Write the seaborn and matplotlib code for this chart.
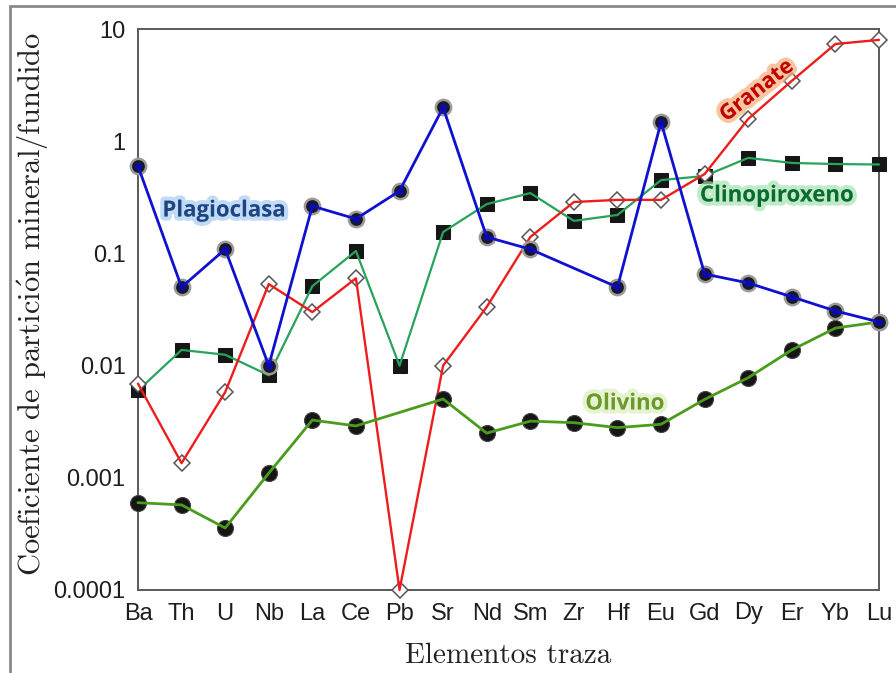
import numpy as np
import pandas as pd
import matplotlib
matplotlib.use("Agg")
import matplotlib.pyplot as plt
import matplotlib.patheffects as pe
from matplotlib.lines import Line2D
import seaborn as sns

# Elementos traza en el eje x
elementos = ["Ba", "Th", "U", "Nb", "La", "Ce", "Pb", "Sr", "Nd", "Sm",
             "Zr", "Hf", "Eu", "Gd", "Dy", "Er", "Yb", "Lu"]

# Coeficientes de partición mineral/fundido (NaN = sin dato)
plagioclasa = [0.60, 0.050, 0.109, 0.010, 0.264, 0.203, 0.36, 2.0, 0.14, 0.109,
               np.nan, 0.050, 1.48, 0.0655, 0.0545, 0.041, 0.0307, 0.0245]
clinopiroxeno = [0.0060, 0.0138, 0.0125, 0.0082, 0.051, 0.105, 0.010, 0.155, 0.275, 0.345,
                 0.195, 0.22, 0.45, 0.49, 0.71, 0.64, 0.626, 0.62]
granate = [0.0069, 0.00135, 0.0058, 0.0533, 0.030, 0.060, 0.0001, 0.010, 0.0333, 0.14,
           0.287, 0.30, 0.30, 0.51, 1.58, 3.45, 7.35, 8.0]
olivino = [0.00060, 0.000573, 0.000357, 0.0011, 0.00327, 0.0029, np.nan, 0.00504, 0.0025, 0.0032,
           0.0031, 0.0028, 0.0030, 0.0050, 0.0078, 0.0138, 0.0216, 0.0245]

yticks = [0.0001, 0.001, 0.01, 0.1, 1, 10]
ytick_labels = ["0.0001", "0.001", "0.01", "0.1", "1", "10"]


def tabla(valores):
    df = pd.DataFrame({"pos": np.arange(len(elementos)),
                       "elemento": elementos,
                       "kd": valores})
    return df.dropna()


sns.set_theme(style="white")
plt.rcParams["font.family"] = ["Liberation Sans", "DejaVu Sans"]
plt.rcParams["mathtext.fontset"] = "cm"

fig = plt.figure(figsize=(8.96, 6.73), dpi=100)
ax = fig.add_axes([138 / 896, 1 - 590 / 673, (879 - 138) / 896, (590 - 29) / 673])

comunes = dict(ax=ax, estimator=None, sort=False, clip_on=False)

# Clinopiroxeno: cuadrados negros, línea verde
d = tabla(clinopiroxeno)
sns.lineplot(data=d, x="pos", y="kd", linestyle="none", marker="s", markersize=10.5,
             markerfacecolor="#161616", markeredgecolor="#161616", zorder=3, **comunes)
sns.lineplot(data=d, x="pos", y="kd", color="#27a35c", linewidth=1.6, zorder=4, **comunes)

# Granate: rombos blancos, línea roja
d = tabla(granate)
sns.lineplot(data=d, x="pos", y="kd", linestyle="none", marker="D", markersize=8.5,
             markerfacecolor="white", markeredgecolor="#555555",
             markeredgewidth=1.1, zorder=5, **comunes)
sns.lineplot(data=d, x="pos", y="kd", color="#ee1c1c", linewidth=1.7, zorder=6, **comunes)

# Olivino: círculos negros grandes, línea verde oliva
d = tabla(olivino)
sns.lineplot(data=d, x="pos", y="kd", linestyle="none", marker="o", markersize=11.5,
             markerfacecolor="#151515", markeredgecolor="#444444",
             markeredgewidth=0.8, zorder=7, **comunes)
sns.lineplot(data=d, x="pos", y="kd", color="#4a9d1c", linewidth=2.0, zorder=8, **comunes)

# Plagioclasa: círculos con anillo gris y centro azul, línea azul
d = tabla(plagioclasa)
sns.lineplot(data=d, x="pos", y="kd", linestyle="none", marker="o", markersize=11,
             markerfacecolor="#1a1a1a", markeredgecolor="#9a9a9a",
             markeredgewidth=1.8, zorder=9, **comunes)
sns.lineplot(data=d, x="pos", y="kd", color="#1010d0", linewidth=2.0, zorder=10, **comunes)
sns.lineplot(data=d, x="pos", y="kd", linestyle="none", marker="o", markersize=4.5,
             markerfacecolor="#0a0ab0", markeredgecolor="#0a0ab0", zorder=11, **comunes)

ax.set_yscale("log")
ax.set_ylim(1e-4, 10)
ax.set_xlim(0, len(elementos) - 1)
ax.set_yticks(yticks)
ax.set_yticklabels(ytick_labels)
ax.minorticks_off()
ax.set_xticks(np.arange(len(elementos)))
ax.set_xticklabels(elementos)
ax.tick_params(axis="both", direction="in", length=5, width=1.1, color="#555555",
               labelsize=17, labelcolor="#1e1e1e")
ax.tick_params(axis="x", pad=9)
ax.tick_params(axis="y", pad=9)
for sp in ax.spines.values():
    sp.set_color("#5a5a5a")
    sp.set_linewidth(1.4)
    sp.set_visible(True)
    sp.set_zorder(2)

serif = ["cmr10", "DejaVu Serif"]
ax.set_xlabel("Elementos traza", fontsize=21, family=serif, color="#222222")
ax.set_ylabel(r"Coeficiente de partici$\mathrm{\acute{o}}$n mineral/fundido", fontsize=22,
              family=serif, color="#222222")
ax.xaxis.set_label_coords(0.5, -0.093)
ax.yaxis.set_label_coords(-0.118, 0.51)


def rotulo(x, y, texto, color, brillo, rot=0, size=16):
    fig.text(x / 896, 1 - y / 673, texto, ha="center", va="center", rotation=rot,
             rotation_mode="anchor",
             fontsize=size, fontweight="bold", family=["Open Sans", "DejaVu Sans"],
             color=color, zorder=20,
             path_effects=[pe.withStroke(linewidth=6, foreground=brillo, alpha=0.7)])


rotulo(224, 211, "Plagioclasa", "#1d4584", "#a9cdf2")
rotulo(777, 196, "Clinopiroxeno", "#0b6a2e", "#a6e3b1")
rotulo(757, 91, "Granate", "#c40000", "#f6b07a", rot=38, size=15.5)
rotulo(625, 404, "Olivino", "#6b9a2a", "#dcefbd")

# Marco gris de la figura
fig.add_artist(Line2D([10 / 896, 1], [1 - 6 / 673, 1 - 6 / 673],
                      transform=fig.transFigure, color="#8a8a8a", linewidth=2))
fig.add_artist(Line2D([10 / 896, 10 / 896], [0, 1 - 6 / 673],
                      transform=fig.transFigure, color="#8a8a8a", linewidth=2))

fig.savefig("out.png", dpi=100, facecolor="white")
